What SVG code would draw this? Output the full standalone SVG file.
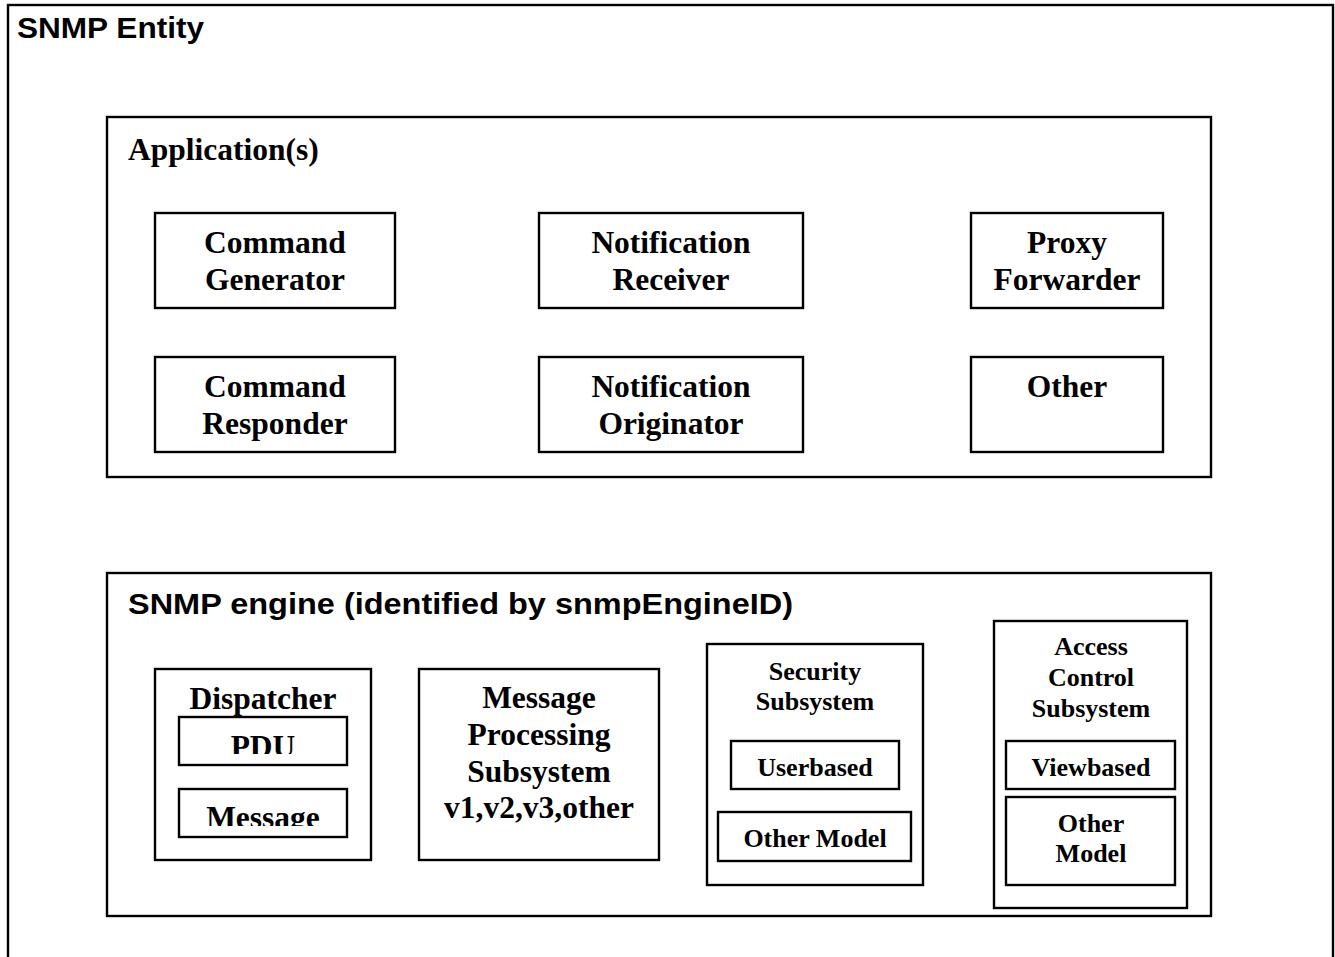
<svg xmlns="http://www.w3.org/2000/svg" width="1335" height="957" viewBox="0 0 1335 957">
<style>
rect{fill:none;stroke:#000;stroke-width:2.4}
.t{font-family:"Liberation Serif","Times New Roman",serif;font-weight:bold;font-size:31.5px;text-anchor:middle;fill:#000}
.s{font-family:"Liberation Serif","Times New Roman",serif;font-weight:bold;font-size:26px;text-anchor:middle;fill:#000}
.h{font-family:"Liberation Sans",Arial,sans-serif;font-weight:bold;font-size:30px;fill:#000}
</style>
<defs>
<clipPath id="cpPdu"><rect x="180" y="718" width="166" height="36"/></clipPath>
<clipPath id="cpMsg"><rect x="180" y="790" width="166" height="36"/></clipPath>
</defs>
<rect x="0" y="0" width="1335" height="957" style="fill:#fff;stroke:none"/>
<g id="snmp-entity">
<rect x="8" y="5" width="1325" height="1000"/>
<text class="h" x="17" y="38" textLength="187" lengthAdjust="spacingAndGlyphs">SNMP Entity</text>
</g>
<g id="applications">
<rect x="107" y="117" width="1104" height="360"/>
<text class="t" x="128" y="160" style="text-anchor:start">Application(s)</text>
</g>
<g id="command-generator">
<rect x="155" y="213" width="240" height="95"/>
<text class="t" x="275" y="253">Command</text>
<text class="t" x="275" y="290">Generator</text>
</g>
<g id="notification-receiver">
<rect x="539" y="213" width="264" height="95"/>
<text class="t" x="671" y="253">Notification</text>
<text class="t" x="671" y="290">Receiver</text>
</g>
<g id="proxy-forwarder">
<rect x="971" y="213" width="192" height="95"/>
<text class="t" x="1067" y="253">Proxy</text>
<text class="t" x="1067" y="290">Forwarder</text>
</g>
<g id="command-responder">
<rect x="155" y="357" width="240" height="95"/>
<text class="t" x="275" y="397">Command</text>
<text class="t" x="275" y="434">Responder</text>
</g>
<g id="notification-originator">
<rect x="539" y="357" width="264" height="95"/>
<text class="t" x="671" y="397">Notification</text>
<text class="t" x="671" y="434">Originator</text>
</g>
<g id="other-app">
<rect x="971" y="357" width="192" height="95"/>
<text class="t" x="1067" y="397">Other</text>
</g>
<g id="snmp-engine">
<rect x="107" y="573" width="1104" height="343"/>
<text class="h" x="128" y="614" textLength="665" lengthAdjust="spacingAndGlyphs">SNMP engine (identified by snmpEngineID)</text>
</g>
<g id="dispatcher">
<rect x="155" y="669" width="216" height="191"/>
<text class="t" x="263" y="709">Dispatcher</text>
</g>
<g id="pdu">
<rect x="179" y="717" width="168" height="48"/>
<text class="t" x="263" y="757" clip-path="url(#cpPdu)">PDU</text>
</g>
<g id="message">
<rect x="179" y="789" width="168" height="48"/>
<text class="t" x="263" y="828" clip-path="url(#cpMsg)">Message</text>
</g>
<g id="message-processing">
<rect x="419" y="669" width="240" height="191"/>
<text class="t" x="539" y="708">Message</text>
<text class="t" x="539" y="745">Processing</text>
<text class="t" x="539" y="782">Subsystem</text>
<text class="t" x="539" y="818">v1,v2,v3,other</text>
</g>
<g id="security-subsystem">
<rect x="707" y="644" width="216" height="241"/>
<text class="s" x="815" y="680">Security</text>
<text class="s" x="815" y="710">Subsystem</text>
</g>
<g id="userbased">
<rect x="731" y="741" width="168" height="48"/>
<text class="s" x="815" y="776">Userbased</text>
</g>
<g id="security-other-model">
<rect x="718" y="812" width="193" height="49"/>
<text class="s" x="815" y="847">Other Model</text>
</g>
<g id="access-control-subsystem">
<rect x="994" y="621" width="193" height="287"/>
<text class="s" x="1091" y="655">Access</text>
<text class="s" x="1091" y="686">Control</text>
<text class="s" x="1091" y="717">Subsystem</text>
</g>
<g id="viewbased">
<rect x="1006" y="741" width="169" height="48"/>
<text class="s" x="1091" y="776">Viewbased</text>
</g>
<g id="access-other-model">
<rect x="1006" y="797" width="169" height="88"/>
<text class="s" x="1091" y="832">Other</text>
<text class="s" x="1091" y="862">Model</text>
</g>
<g id="connectors"></g>
</svg>
